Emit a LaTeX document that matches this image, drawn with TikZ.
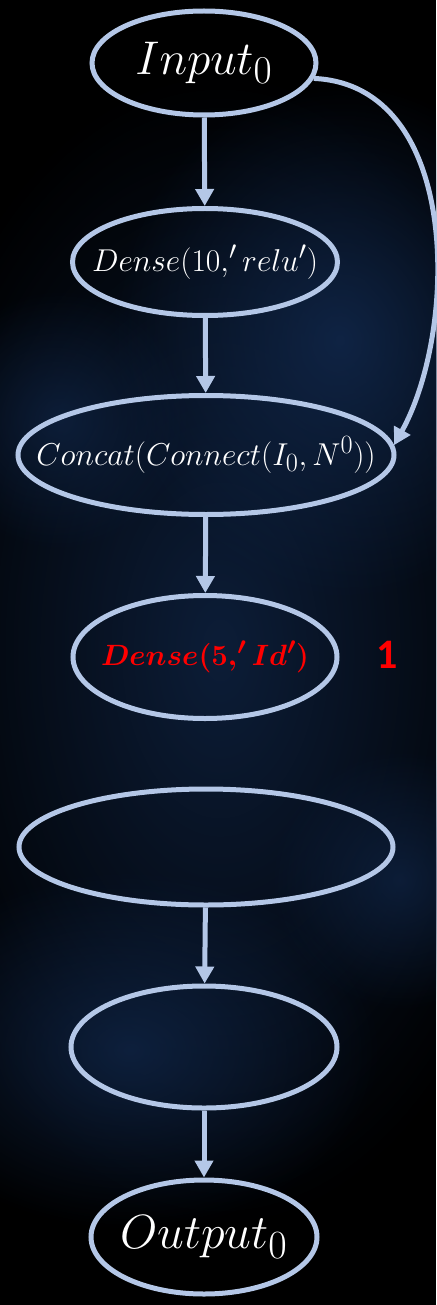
\documentclass[tikz,border=0pt]{standalone}
\usepackage{fontspec}
\usetikzlibrary{shapes.geometric,arrows.meta,fadings}
\newfontfamily\numfont{Carlito}
\definecolor{edge}{HTML}{B4C7E7}
\definecolor{glow}{RGB}{18,42,80}
\definecolor{tagred}{HTML}{FF0000}
\tikzfading[name=softglow, inner color=transparent!0, outer color=transparent!100]
% math label set at 24.88pt, scaled to the wanted size; zero width so the
% ellipse keeps its own minimum size
\newcommand\mlabel[2]{\makebox[0pt]{\scalebox{#1}{\fontsize{24.88}{30}\selectfont$#2$}}}

\begin{document}
\begin{tikzpicture}[x=1pt,y=-1pt,
  layer/.style={ellipse, draw=edge, line width=5pt, inner sep=0pt, text=white},
  arr/.style={draw=edge, line width=5pt, -{Triangle[length=17pt,width=18pt]}},
  glowspot/.style={fill=glow, path fading=softglow}]

% background
\fill[black] (0,0) rectangle (436,1305);
\useasboundingbox (0,0) rectangle (436,1305);
\fill[glowspot, fill opacity=0.7] (220,650) ellipse [x radius=340, y radius=580];
\fill[glowspot, fill opacity=0.8] (340,340) ellipse [x radius=230, y radius=260];
\fill[glowspot, fill opacity=0.6] (60,420) ellipse [x radius=130, y radius=130];
\fill[glowspot, fill opacity=0.7] (130,1050) ellipse [x radius=250, y radius=180];
\fill[glowspot, fill opacity=0.6] (400,880) ellipse [x radius=130, y radius=130];

% layers
\node[layer, minimum width=224pt, minimum height=104pt] (in) at (204,63)
  {\mlabel{1.9}{Input_0}};
\node[layer, minimum width=265pt, minimum height=107pt] (dense10) at (205,262)
  {\mlabel{1.27}{Dense(10,'relu')}};
\node[layer, minimum width=376pt, minimum height=119pt] (concat) at (206,455)
  {\mlabel{1.27}{Concat(Connect(I_0,N^0))}};
\node[layer, minimum width=264pt, minimum height=123pt, text=tagred,
      font=\boldmath] (dense5) at (205,657)
  {\mlabel{1.18}{Dense(5,'Id')}};
\node[text=tagred, font=\numfont\bfseries\fontsize{42}{46}\selectfont] (tag) at (387,655) {1};
\node[layer, minimum width=374pt, minimum height=116pt] (blankA) at (206,847) {};
\node[layer, minimum width=266pt, minimum height=122pt] (blankB) at (204,1047) {};
\node[layer, minimum width=226pt, minimum height=114pt] (out) at (204,1237)
  {\mlabel{1.93}{Output_0}};

% connectors
\draw[arr] (in) -- (dense10);
\draw[arr] (dense10) -- (concat);
\draw[arr] (concat) -- (dense5);
\draw[arr] (blankA) -- (blankB);
\draw[arr] (blankB) -- (out);
\draw[arr] (in.-8) .. controls (462,85) and (458,330) .. (concat.3);
\end{tikzpicture}
\end{document}
